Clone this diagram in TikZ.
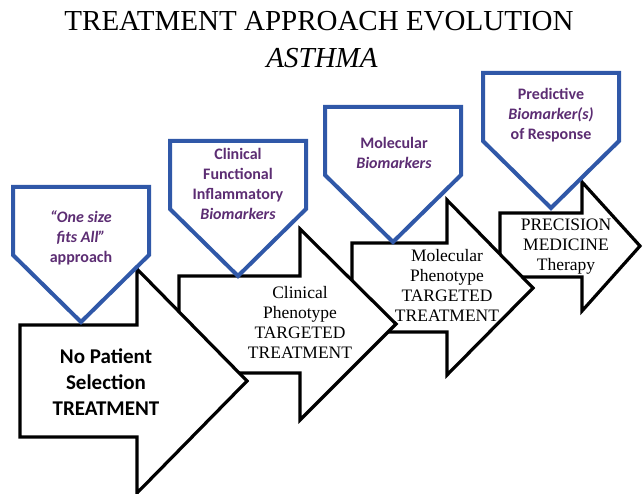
\documentclass[tikz,border=0pt]{standalone}
\usepackage{fontspec}
\setmainfont{Liberation Serif}
\newfontfamily\calibri{Carlito}
\definecolor{pentblue}{RGB}{48,88,168}
\definecolor{markpurple}{RGB}{92,45,115}
\tikzset{
  stepline/.style={line width=3.2pt, draw=black, fill=white, line join=miter},
  pentline/.style={line width=4pt, draw=pentblue, fill=white, line join=miter},
  marktext/.style={align=center, inner sep=0pt, text=markpurple, font={\calibri\bfseries\fontsize{16}{20}\selectfont}},
  steptext/.style={align=center, inner sep=0pt, font={\fontsize{17.5}{20}\selectfont}},
}
\begin{document}
\begin{tikzpicture}[x=1pt, y=-1pt]
\useasboundingbox (0,0) rectangle (643,494);
\node[anchor=base, inner sep=0pt, font={\fontsize{29}{35}\selectfont}] (title) at (319,31) {TREATMENT APPROACH EVOLUTION}; % title
\node[anchor=base, inner sep=0pt, font={\fontsize{29}{35}\selectfont\itshape}] (disease) at (322,68) {ASTHMA}; % second title line
% arrows, last one first
\draw[stepline] (500,213) -- (582,213) -- (582,182) -- (640,246) -- (582,311) -- (582,277) -- (500,277) -- cycle; % arrow 4
\draw[stepline] (352,243) -- (447,243) -- (447,200) -- (533,288) -- (447,375) -- (447,332) -- (352,332) -- cycle; % arrow 3
\draw[stepline] (179,276) -- (300,276) -- (300,229) -- (396,324) -- (300,420) -- (300,373) -- (179,373) -- cycle; % arrow 2
\draw[stepline] (20,325) -- (137,325) -- (137,269) -- (247,381) -- (137,493) -- (137,437) -- (20,437) -- cycle; % arrow 1
% pentagons on top
\foreach \x/\y in {13/187, 170/141, 325/107, 483/73}
\draw[pentline] (\x,\y) -- ++(136,0) -- ++(0,68) -- ++(-68,67) -- ++(-68,-67) -- cycle;
\node[marktext] (size) at (81,238) {\textit{“One size}\\\textit{fits All”}\\approach};
\node[marktext] (clinmark) at (238,184) {Clinical\\Functional\\Inflammatory\\\textit{Biomarkers}};
\node[marktext] (molmark) at (394,153) {Molecular\\\textit{Biomarkers}};
\node[marktext] (predmark) at (551,115) {Predictive\\\textit{Biomarker(s)}\\of Response};
\node[align=center, inner sep=0pt, font={\calibri\bfseries\fontsize{21}{26}\selectfont}] (noselect) at (106,382) {No Patient\\Selection\\TREATMENT};
\node[steptext] (clinpheno) at (300,322) {Clinical\\Phenotype\\TARGETED\\TREATMENT};
\node[steptext] (molpheno) at (447,285) {Molecular\\Phenotype\\TARGETED\\TREATMENT};
\node[steptext] (precision) at (566,247) {PRECISION\\MEDICINE\\Therapy};
\end{tikzpicture}
\end{document}
